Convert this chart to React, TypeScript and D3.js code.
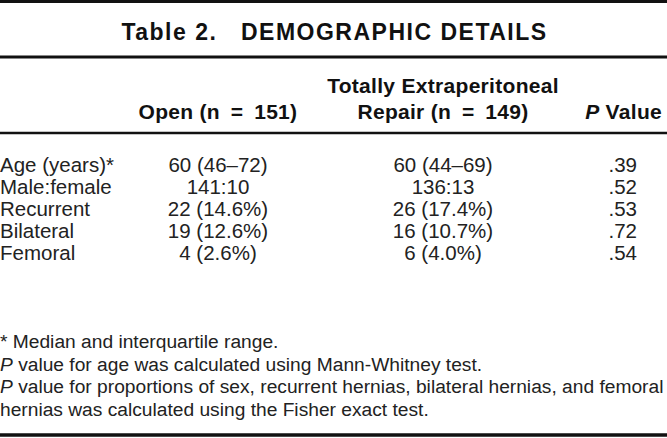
import React, { useEffect, useRef } from 'react';
import * as d3 from 'd3';

const title = 'Table 2.\u00a0\u00a0\u00a0DEMOGRAPHIC DETAILS';
const headOpen = 'Open (n\u2002=\u2002151)';
const headTep = ['Totally Extraperitoneal', 'Repair (n\u2002=\u2002149)'];
const rowLabels = ['Age (years)*', 'Male:female', 'Recurrent', 'Bilateral', 'Femoral'];
const openValues = ['60 (46–72)', '141:10', '22 (14.6%)', '19 (12.6%)', '4 (2.6%)'];
const tepValues = ['60 (44–69)', '136:13', '26 (17.4%)', '16 (10.7%)', '6 (4.0%)'];
const pValues = ['.39', '.52', '.53', '.72', '.54'];
const footnotes = [
  [{ t: '* Median and interquartile range.', i: false }],
  [{ t: 'P', i: true }, { t: ' value for age was calculated using Mann-Whitney test.', i: false }],
  [{ t: 'P', i: true }, { t: ' value for proportions of sex, recurrent hernias, bilateral hernias, and femoral', i: false }],
  [{ t: 'hernias was calculated using the Fisher exact test.', i: false }],
];

export default function DemographicTable() {
  const svgRef = useRef<SVGSVGElement>(null);
  const width = 667;
  const height = 438;

  useEffect(() => {
    document.body.style.margin = '0';
    if (!svgRef.current) return;
    const svg = d3.select(svgRef.current);
    svg.selectAll('*').remove();
    const font = "'Liberation Sans', Arial, Helvetica, sans-serif";

    svg.append('rect').attr('width', width).attr('height', height).attr('fill', '#fff');

    // horizontal rules
    const rules = [
      { y: 1.5, w: 3 },
      { y: 57, w: 3 },
      { y: 133, w: 2.5 },
      { y: 435, w: 3.5 },
    ];
    svg.selectAll('line.rule')
      .data(rules)
      .join('line')
      .attr('x1', 0).attr('x2', width)
      .attr('y1', d => d.y).attr('y2', d => d.y)
      .attr('stroke', '#111').attr('stroke-width', d => d.w);

    svg.append('text')
      .attr('x', width / 2 + 1).attr('y', 40)
      .attr('text-anchor', 'middle')
      .attr('font-family', font).attr('font-weight', 'bold').attr('font-size', 23)
      .attr('letter-spacing', 1.5)
      .attr('fill', '#111')
      .text(title);

    // column positions
    const colX = { open: 218, tep: 443, p: 637 };

    const head = svg.append('g')
      .attr('font-family', font).attr('font-weight', 'bold').attr('font-size', 21)
      .attr('letter-spacing', 0.3)
      .attr('fill', '#111');
    head.append('text').attr('x', colX.open).attr('y', 119).attr('text-anchor', 'middle').text(headOpen);
    head.append('text').attr('x', colX.tep).attr('y', 93).attr('text-anchor', 'middle').text(headTep[0]);
    head.append('text').attr('x', colX.tep).attr('y', 119).attr('text-anchor', 'middle').text(headTep[1]);
    const pv = head.append('text').attr('x', 662).attr('y', 119).attr('text-anchor', 'end');
    pv.append('tspan').attr('font-style', 'italic').text('P');
    pv.append('tspan').text(' Value');

    // rows
    const y = d3.scalePoint<string>().domain(rowLabels).range([172, 260]);
    const body = svg.append('g')
      .attr('font-family', font).attr('font-size', 20.5).attr('fill', '#222');

    body.selectAll('text.lab').data(rowLabels).join('text')
      .attr('x', 0).attr('y', d => y(d)!)
      .text(d => d);
    body.selectAll('text.open').data(openValues).join('text')
      .attr('x', colX.open).attr('y', (d, i) => y(rowLabels[i])!)
      .attr('text-anchor', 'middle').text(d => d);
    body.selectAll('text.tep').data(tepValues).join('text')
      .attr('x', colX.tep).attr('y', (d, i) => y(rowLabels[i])!)
      .attr('text-anchor', 'middle').text(d => d);
    body.selectAll('text.pv').data(pValues).join('text')
      .attr('x', colX.p).attr('y', (d, i) => y(rowLabels[i])!)
      .attr('text-anchor', 'end').text(d => d);

    // footnotes
    const fy = d3.scaleLinear().domain([0, footnotes.length - 1]).range([348, 416]);
    const notes = svg.append('g')
      .attr('font-family', font).attr('font-size', 19.2).attr('fill', '#222');
    footnotes.forEach((parts, i) => {
      const t = notes.append('text').attr('x', 0).attr('y', fy(i));
      parts.forEach(p => {
        t.append('tspan').attr('font-style', p.i ? 'italic' : 'normal').text(p.t);
      });
    });
  }, []);

  return <svg ref={svgRef} width={width} height={height} style={{ display: 'block' }} />;
}
